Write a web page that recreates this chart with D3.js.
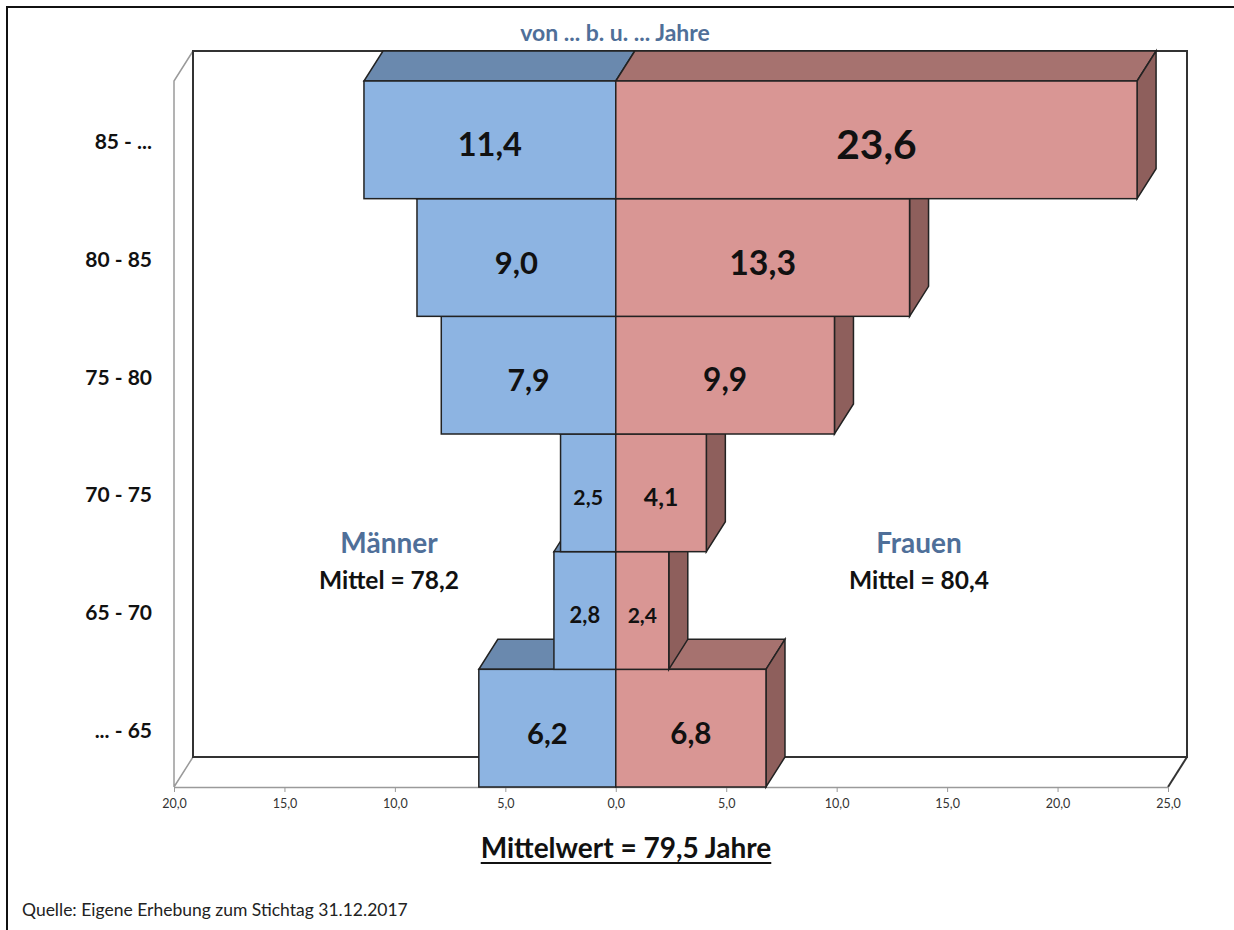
<!DOCTYPE html>
<html>
<head>
<meta charset="utf-8">
<script src="https://cdn.jsdelivr.net/npm/d3@7"></script>
<style>
    body { margin: 0; background: #fff; }
    svg text { font-family: Lato, "Open Sans", sans-serif; }
</style>
</head>
<body>
<div id="chart-area"></div>
<script>
/*
*    Altersstruktur - 3D Pyramide
*/

/* Data */

const ageGroups = ["85 - ...", "80 - 85", "75 - 80", "70 - 75", "65 - 70", "... - 65"]
const maenner = [11.4, 9.0, 7.9, 2.5, 2.8, 6.2]
const frauen = [23.6, 13.3, 9.9, 4.1, 2.4, 6.8]
const xTicks = [-20, -15, -10, -5, 0, 5, 10, 15, 20, 25]
const mittelMaenner = 78.2
const mittelFrauen = 80.4
const mittelGesamt = 79.5

/* Prep the chart area */

const WIDTH = 1234
const HEIGHT = 930
const PLOT = { LEFT: 174, RIGHT: 1168, TOP: 81, BOTTOM: 787 }
const DEPTH = { X: 19, Y: -30 }

const BLUE = { front: "#8db4e2", top: "#6a89ae" }
const RED = { front: "#d99694", top: "#a6726f", side: "#8e5f5c" }
const TITLE_BLUE = "#4f6f99"

const svg = d3.select("#chart-area").append("svg")
    .attr("width", WIDTH)
    .attr("height", HEIGHT)

svg.append("rect")
    .attr("width", WIDTH)
    .attr("height", HEIGHT)
    .attr("fill", "#fff")

// frame of the slide
svg.append("path")
    .attr("d", `M7,${HEIGHT} L7,7 L${WIDTH},7`)
    .attr("fill", "none")
    .attr("stroke", "#111")
    .attr("stroke-width", 2)

// scales
const x = d3.scaleLinear()
    .domain([-20, 25])
    .range([PLOT.LEFT, PLOT.RIGHT])

const y = d3.scaleBand()
    .domain(ageGroups)
    .range([PLOT.TOP, PLOT.BOTTOM])

const labelSize = d3.scaleLinear()
    .domain([2.4, 6, 24])
    .range([21, 29, 41])

const fmt = v => d3.format(".1f")(Math.abs(v)).replace(".", ",")

const g = svg.append("g")

/* Walls and floor */

const bx0 = x(-20) + DEPTH.X, bx1 = x(25) + DEPTH.X
const by0 = PLOT.TOP + DEPTH.Y, by1 = PLOT.BOTTOM + DEPTH.Y

// side wall (grey outline)
g.append("path")
    .attr("d", `M${x(-20)},${PLOT.BOTTOM} L${x(-20)},${PLOT.TOP} L${bx0},${by0}`
        + ` M${x(-20)},${PLOT.BOTTOM} L${bx0},${by1}`)
    .attr("fill", "none")
    .attr("stroke", "#9a9a9a")
    .attr("stroke-width", 1.5)

// back wall
g.append("rect")
    .attr("x", bx0)
    .attr("y", by0)
    .attr("width", bx1 - bx0)
    .attr("height", by1 - by0)
    .attr("fill", "#fff")
    .attr("stroke", "#333")
    .attr("stroke-width", 2)

// floor right edge
g.append("line")
    .attr("x1", x(25)).attr("y1", PLOT.BOTTOM)
    .attr("x2", bx1).attr("y2", by1)
    .attr("stroke", "#333")
    .attr("stroke-width", 2)

// x axis = front edge of the floor
const xAxis = d3.axisBottom(x)
    .tickValues(xTicks)
    .tickSize(5)
    .tickSizeOuter(0)
    .tickFormat(fmt)

const axisG = g.append("g")
    .attr("transform", `translate(0,${PLOT.BOTTOM})`)
    .call(xAxis)

axisG.select(".domain").attr("stroke", "#9a9a9a").attr("stroke-width", 1.5)
axisG.selectAll(".tick line").attr("stroke", "#9a9a9a")
axisG.selectAll(".tick text")
    .attr("y", 12)
    .attr("fill", "#333")
    .style("font-size", "12.5px")

/* Bars - drawn from bottom row to top row */

const rows = ageGroups.map((a, i) => ({ group: a, m: maenner[i], f: frauen[i] }))

const poly = pts => "M" + pts.map(p => p.join(",")).join("L") + "Z"

const rowG = g.selectAll("g.row")
    .data(rows.slice().reverse())
    .join("g")
    .attr("class", "row")

rowG.each(function(d) {
    const sel = d3.select(this)
    const t = y(d.group)
    const b = t + y.bandwidth()

    // Männer
    const m0 = x(-d.m), m1 = x(0)
    sel.append("path")
        .attr("d", poly([[m0, t], [m1, t], [m1 + DEPTH.X, t + DEPTH.Y], [m0 + DEPTH.X, t + DEPTH.Y]]))
        .attr("fill", BLUE.top)
        .attr("stroke", "#222")
        .attr("stroke-width", 1.5)
    sel.append("rect")
        .attr("x", m0).attr("y", t)
        .attr("width", m1 - m0).attr("height", b - t)
        .attr("fill", BLUE.front)
        .attr("stroke", "#222")
        .attr("stroke-width", 1.5)

    // Frauen
    const f0 = x(0), f1 = x(d.f)
    sel.append("path")
        .attr("d", poly([[f0, t], [f1, t], [f1 + DEPTH.X, t + DEPTH.Y], [f0 + DEPTH.X, t + DEPTH.Y]]))
        .attr("fill", RED.top)
        .attr("stroke", "#222")
        .attr("stroke-width", 1.5)
    sel.append("path")
        .attr("d", poly([[f1, t], [f1 + DEPTH.X, t + DEPTH.Y], [f1 + DEPTH.X, b + DEPTH.Y], [f1, b]]))
        .attr("fill", RED.side)
        .attr("stroke", "#222")
        .attr("stroke-width", 1.5)
    sel.append("rect")
        .attr("x", f0).attr("y", t)
        .attr("width", f1 - f0).attr("height", b - t)
        .attr("fill", RED.front)
        .attr("stroke", "#222")
        .attr("stroke-width", 1.5)

    // value labels
    sel.append("text")
        .attr("x", (m0 + m1) / 2)
        .attr("y", (t + b) / 2 + 4)
        .attr("text-anchor", "middle")
        .attr("dominant-baseline", "central")
        .style("font-weight", "bold")
        .style("font-size", labelSize(d.m) + "px")
        .attr("fill", "#111")
        .text(fmt(d.m))
    sel.append("text")
        .attr("x", (f0 + f1) / 2)
        .attr("y", (t + b) / 2 + 4)
        .attr("text-anchor", "middle")
        .attr("dominant-baseline", "central")
        .style("font-weight", "bold")
        .style("font-size", labelSize(d.f) + "px")
        .attr("fill", "#111")
        .text(fmt(d.f))
})

// age group labels
g.selectAll("text.age")
    .data(ageGroups)
    .join("text")
    .attr("class", "age")
    .attr("x", 152)
    .attr("y", d => y(d) + y.bandwidth() / 2 + 1)
    .attr("text-anchor", "end")
    .attr("dominant-baseline", "central")
    .style("font-weight", "bold")
    .style("font-size", "21px")
    .attr("fill", "#111")
    .text(d => d)

/* Texts */

svg.append("text")
    .attr("x", 615).attr("y", 41)
    .attr("text-anchor", "middle")
    .style("font-weight", "bold")
    .style("font-size", "23px")
    .attr("fill", TITLE_BLUE)
    .text("von ... b. u. ... Jahre")

const groupText = [
    { name: "Männer", mittel: mittelMaenner, cx: 389 },
    { name: "Frauen", mittel: mittelFrauen, cx: 919 }
]

groupText.forEach(d => {
    svg.append("text")
        .attr("x", d.cx).attr("y", 553)
        .attr("text-anchor", "middle")
        .style("font-weight", "bold")
        .style("font-size", "28px")
        .attr("fill", TITLE_BLUE)
        .text(d.name)
    svg.append("text")
        .attr("x", d.cx).attr("y", 589)
        .attr("text-anchor", "middle")
        .style("font-weight", "bold")
        .style("font-size", "24.5px")
        .attr("fill", "#111")
        .text("Mittel = " + fmt(d.mittel))
})

const mw = svg.append("text")
    .attr("x", 626).attr("y", 858)
    .attr("text-anchor", "middle")
    .style("font-weight", "bold")
    .style("font-size", "28px")
    .attr("fill", "#111")
    .text("Mittelwert = " + fmt(mittelGesamt) + " Jahre")

const mwLen = mw.node().getComputedTextLength()
svg.append("line")
    .attr("x1", 626 - mwLen / 2).attr("x2", 626 + mwLen / 2)
    .attr("y1", 863).attr("y2", 863)
    .attr("stroke", "#111")
    .attr("stroke-width", 2)

svg.append("text")
    .attr("x", 22).attr("y", 916)
    .style("font-size", "17.5px")
    .attr("fill", "#222")
    .text("Quelle: Eigene Erhebung zum Stichtag 31.12.2017")
</script>
</body>
</html>
